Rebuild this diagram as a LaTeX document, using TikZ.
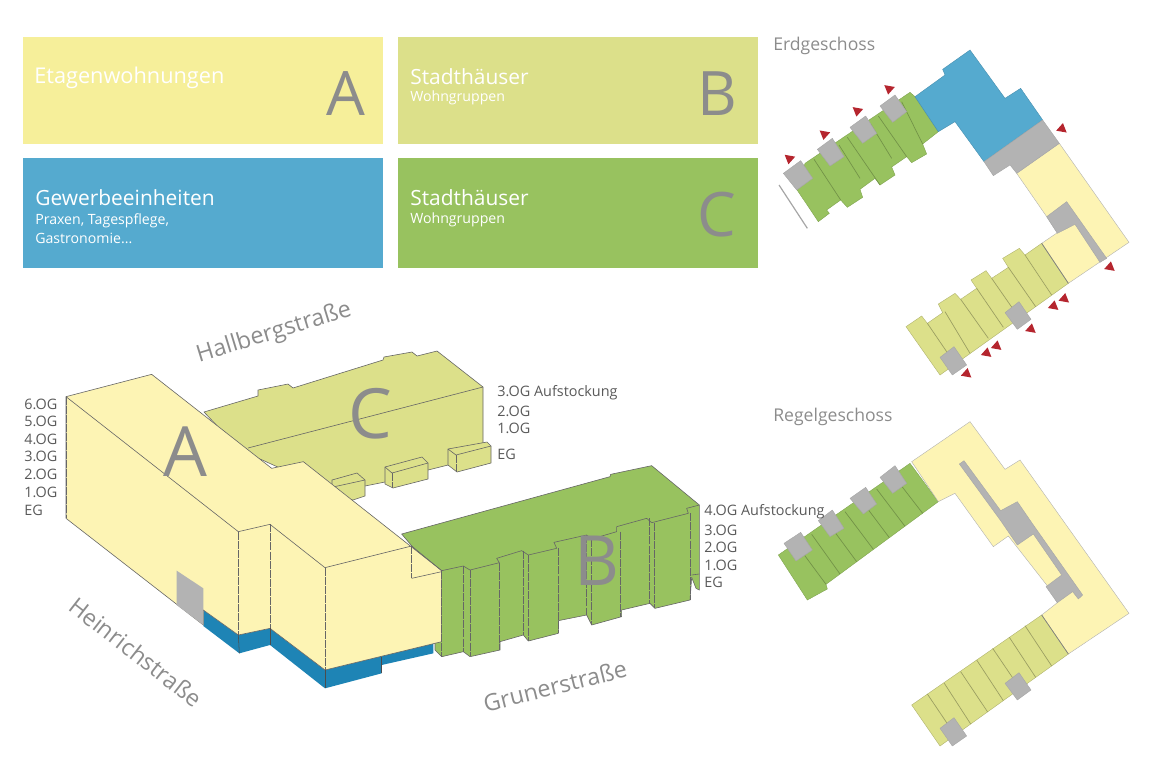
\documentclass[tikz,border=0pt]{standalone}
\usepackage{fontspec}
\setmainfont{Open Sans}
\definecolor{flatY}{HTML}{F6EF9A}
\definecolor{wallY}{HTML}{FDF4B4}
\definecolor{townLG}{HTML}{DCE08A}
\definecolor{townG}{HTML}{98C25F}
\definecolor{shopB}{HTML}{55AACF}
\definecolor{baseB}{HTML}{1E84B5}
\definecolor{coreGr}{HTML}{B3B3B3}
\definecolor{bigGr}{HTML}{8C8C8C}
\definecolor{tipR}{HTML}{B5252E}
\begin{document}
\begin{tikzpicture}[x=0.75pt,y=-0.75pt]
\useasboundingbox (0,0) rectangle (1155,764);
%%%%%%%%%%%%%%%%%%%%%%%%%%%%%%%%%%%%%%%%%%%%%%%%%%%%%%%%%%%%%%%%%%%%%%%%
%styles
\tikzstyle{legbox}=[minimum width=270pt,inner sep=0pt,anchor=north west]
\tikzstyle{legbig}=[font=\fontsize{15.7}{18}\selectfont,text=white,anchor=west,inner sep=0pt]
\tikzstyle{legsmall}=[font=\fontsize{10.6}{12}\selectfont,text=white,anchor=west,inner sep=0pt]
\tikzstyle{letter}=[font=\fontsize{46}{50}\selectfont,text=bigGr,inner sep=0pt]
\tikzstyle{bigletter}=[font=\fontsize{52}{56}\selectfont,text=bigGr,inner sep=0pt]
\tikzstyle{floor}=[font=\fontsize{10.8}{12}\selectfont,text=black!65,anchor=west,inner sep=0pt]
\tikzstyle{street}=[font=\fontsize{17.5}{20}\selectfont,text=black!45,inner sep=0pt]
\tikzstyle{plantitle}=[font=\fontsize{13.2}{15}\selectfont,text=black!45,anchor=west,inner sep=0pt]
\tikzstyle{core}=[fill=coreGr,draw=black!35,line width=0.3pt,line join=round]
\tikzstyle{rib}=[line width=0.5pt]
\tikzstyle{isoline}=[draw=black!60,line width=0.45pt,line join=round]
\tikzstyle{isodash}=[black!60,line width=0.45pt,dash pattern=on 6pt off 0.8pt]
\tikzstyle{tip}=[fill=tipR]

%legend
\node[legbox,fill=flatY,minimum height=80pt] (boxA) at (23,37) {};
\node[legbox,fill=townLG,minimum height=80pt] (boxB) at (398,37) {};
\node[legbox,fill=shopB,minimum height=82.5pt] (boxG) at (23,158) {};
\node[legbox,fill=townG,minimum height=82.5pt] (boxC) at (398,158) {};

\node[legbig,font=\fontsize{16.3}{18}\selectfont] (etage) at (34,77.5) {Etagenwohnungen};
\node[letter] (letA) at (346,94) {A};
\node[legbig] (stadt1) at (410,77) {Stadthäuser};
\node[legsmall] (wohn1) at (410,98) {Wohngruppen};
\node[letter] (letB) at (717,94) {B};
\node[legbig] (gewerbe) at (35,198) {Gewerbeeinheiten};
\node[legsmall] (praxen) at (35,220.5) {Praxen, Tagespflege,};
\node[legsmall] (gastro) at (35,238.5) {Gastronomie...};
\node[legbig] (stadt2) at (410,198) {Stadthäuser};
\node[legsmall] (wohn2) at (410,220) {Wohngruppen};
\node[letter] (letC) at (717,215) {C};

%%%%%%%%%%%%%%%%%%%%%%%%%%%%%%%%%%%%%%%%%%%%%%%%%%%%%%%%%%%%%%%%%%%%%%%%
%Erdgeschoss
\begin{scope}[shift={(770,30)},scale=1/3]
% wing C
\fill[townG,draw=townG!85!black,line width=0.3pt] (105,400) -- (420,187) -- (435,200) -- (505,305) -- (458,342) -- (470,372) -- (425,398) -- (410,380) -- (365,411) -- (375,435) -- (330,465) -- (315,445) -- (270,478) -- (278,502) -- (232,532) -- (212,510) -- (170,540) -- (178,550) -- (145,575) -- (80,478) -- cycle;
\foreach \xa/\ya/\xb/\yb in {132/388/212/510,207/345/270/445,232/322/330/465,302/282/365/385,325/258/410/380,395/215/458/342}
 \draw[rib,townG!75!black] (\xa,\ya) -- (\xb,\yb);
\fill[shopB,draw=shopB!85!black,line width=0.3pt] (435,200) -- (525,135) -- (518,118) -- (600,60) -- (705,205) -- (752,175) -- (818,270) -- (642,395) -- (555,275) -- (505,305) -- cycle;
% wing A
\fill[wallY,draw=black!30,line width=0.3pt] (740,430) -- (868,340) -- (1077,637) -- (895,760) -- (815,640) -- (862,608) -- (830,560) -- cycle;
\draw[core] (642,395) -- (818,270) -- (868,340) -- (740,430) -- (720,405) -- (670,437) -- cycle;
\draw[core] (830,560) -- (890,515) -- (1010,685) -- (990,697) -- (915,583) -- (862,610) -- cycle;
% wing B
\fill[townLG,draw=townLG!80!black,line width=0.3pt] (408,890) -- (455,858) -- (472,880) -- (518,848) -- (505,822) -- (555,790) -- (572,808) -- (620,775) -- (603,750) -- (648,722) -- (665,745) -- (715,712) -- (698,685) -- (748,655) -- (765,675) -- (815,640) -- (895,760) -- (510,1035) -- cycle;
\foreach \xa/\ya/\xb/\yb in {472/880/530/965,525/845/600/970,572/808/655/925,620/775/700/892,665/745/745/860,715/712/797/830,765/675/845/795}
 \draw[rib,townLG!70!black] (\xa,\ya) -- (\xb,\yb);
\draw[rib,black!50] (815,640) -- (895,760);
% stairs
\draw[core] (40,430) -- (92,392) -- (128,445) -- (80,480) -- cycle;
\draw[core] (142,358) -- (187,325) -- (222,380) -- (180,408) -- cycle;
\draw[core] (240,292) -- (287,258) -- (320,310) -- (278,340) -- cycle;
\draw[core] (330,228) -- (375,195) -- (410,245) -- (368,277) -- cycle;
\draw[core] (510,982) -- (552,950) -- (590,1005) -- (547,1035) -- cycle;
\draw[core] (705,848) -- (747,815) -- (783,868) -- (742,898) -- cycle;
\draw[black!35,line width=0.9pt] (27,465) -- (112,595);
% entrances
\foreach \xm/\ym in {58/387,163/314,262/244,357/178}
 \fill[tip,shift={(\xm,\ym)},rotate=-10] (0,16) -- (-16,-10) -- (16,-10) -- cycle;
\foreach \xm/\ym in {876/295,1020/710,883/805,851/827,783/896,680/947,650/968,590/1030}
 \fill[tip,shift={(\xm,\ym)},rotate=-10] (0,-16) -- (-16,10) -- (16,10) -- cycle;
\end{scope}

%%%%%%%%%%%%%%%%%%%%%%%%%%%%%%%%%%%%%%%%%%%%%%%%%%%%%%%%%%%%%%%%%%%%%%%%
%Regelgeschoss
\begin{scope}[shift={(770,400)},scale=1/3]
% wing C
\fill[townG,draw=townG!85!black,line width=0.3pt] (25,465) -- (420,190) -- (505,305) -- (168,553) -- (172,567) -- (112,600) -- cycle;
\foreach \xa/\ya/\xb/\yb in {83/438/168/553,125/403/210/522,175/370/260/485,225/335/310/448,273/300/358/413,320/267/405/379,373/230/458/340}
 \draw[rib,townG!75!black] (\xa,\ya) -- (\xb,\yb);
% wing A
\fill[wallY,draw=black!30,line width=0.3pt] (425,185) -- (600,65) -- (705,208) -- (750,180) -- (1077,640) -- (895,762) -- (815,645) -- (862,608) -- (830,555) -- (715,408) -- (670,440) -- (555,280) -- (505,305) -- cycle;
\draw[core] (568,192) -- (582,182) -- (692,332) -- (742,305) -- (788,372) -- (938,585) -- (925,597) -- (908,575) -- (862,608) -- (828,560) -- (875,525) -- (790,402) -- (742,435) -- (692,362) -- cycle;
% wing B
\fill[townLG,draw=townLG!80!black,line width=0.3pt] (425,915) -- (815,645) -- (895,762) -- (510,1038) -- cycle;
\foreach \xa/\ya/\xb/\yb in {472/882/555/1005,523/850/602/972,572/815/653/936,620/780/700/902,668/745/750/866,718/712/797/832,765/677/845/798}
 \draw[rib,townLG!70!black] (\xa,\ya) -- (\xb,\yb);
\draw[rib,black!50] (815,645) -- (895,762);
% stairs
\draw[core] (42,430) -- (92,397) -- (127,450) -- (78,483) -- cycle;
\draw[core] (145,362) -- (187,330) -- (222,385) -- (180,410) -- cycle;
\draw[core] (240,295) -- (287,262) -- (320,312) -- (280,342) -- cycle;
\draw[core] (330,232) -- (375,197) -- (410,250) -- (368,280) -- cycle;
\draw[core] (510,985) -- (552,953) -- (590,1008) -- (547,1038) -- cycle;
\draw[core] (705,850) -- (747,818) -- (783,870) -- (742,900) -- cycle;
\end{scope}

%%%%%%%%%%%%%%%%%%%%%%%%%%%%%%%%%%%%%%%%%%%%%%%%%%%%%%%%%%%%%%%%%%%%%%%%
%building C (behind)
\filldraw[isoline,fill=townLG] (204,412) -- (258,396) -- (258,390) -- (288,384) -- (293,388) -- (383,360) -- (384,357) -- (412,352) -- (417,356) -- (437,351) -- (483,387) -- (483,445) -- (448,465) -- (428,470) -- (385,482) -- (365,486) -- (340,495) -- (240,450) -- cycle;
\draw[isoline] (248,448) -- (483,387);
%bumps
\filldraw[isoline,fill=townLG] (332,480) -- (357,473) -- (365,480) -- (365,496) -- (353,500) -- (332,495) -- cycle;
\draw[isoline] (333,487) -- (365,480);
\filldraw[isoline,fill=townLG] (385,467) -- (422,457) -- (428,463) -- (428,479) -- (393,488) -- (385,484) -- cycle;
\draw[isoline] (385,467) -- (392,473) -- (428,463);
\draw[isodash] (392,473) -- (392,488);
\filldraw[isoline,fill=townLG] (448,449) -- (487,442) -- (491,446) -- (491,463) -- (457,472) -- (448,465) -- cycle;
\draw[isoline] (448,449) -- (456,455) -- (491,446);
\draw[isodash] (456,455) -- (456,472);

%%%%%%%%%%%%%%%%%%%%%%%%%%%%%%%%%%%%%%%%%%%%%%%%%%%%%%%%%%%%%%%%%%%%%%%%
%building B
\begin{scope}[shift={(390,340)},scale=1/3]
\filldraw[isoline,fill=townG] (35,582) -- (660,410) -- (662,403) -- (785,377) -- (928,495) -- (928,750) -- (918,745) -- (905,712) -- (900,780) -- (795,805) -- (780,790) -- (695,810) -- (695,830) -- (605,855) -- (590,825) -- (505,842) -- (505,880) -- (415,903) -- (400,885) -- (330,905) -- (330,930) -- (240,950) -- (220,935) -- (155,950) -- (135,930) -- (135,700) -- cycle;
\draw[isoline] (155,692) -- (220,678) -- (240,690) -- (328,668) -- (320,655) -- (395,632) -- (415,645) -- (500,625) -- (492,607) -- (590,585) -- (605,597) -- (680,575) -- (680,560) -- (770,535) -- (785,548) -- (895,520) -- (890,505) -- (928,495);
\foreach \xd/\ya/\yb in {220/678/935,240/690/948,328/668/930,400/632/885,415/645/903,505/625/880,590/585/825,605/597/855,690/575/830,778/535/790,793/548/805,900/520/780}
 \draw[isodash] (\xd,\ya) -- (\xd,\yb);
\draw[isoline] (905,705) -- (928,702);
\end{scope}

%%%%%%%%%%%%%%%%%%%%%%%%%%%%%%%%%%%%%%%%%%%%%%%%%%%%%%%%%%%%%%%%%%%%%%%%
%building A
\begin{scope}[shift={(10,340)},scale=1/3]
\fill[baseB] (580,810) -- (685,885) -- (780,865) -- (945,990) -- (1270,910) -- (1270,940) -- (1115,975) -- (1115,1000) -- (945,1045) -- (780,915) -- (688,940) -- (580,858) -- cycle;
\filldraw[isoline,fill=wallY] (168,170) -- (425,103) -- (785,385) -- (880,365) -- (1295,692) -- (1295,905) -- (945,990) -- (780,865) -- (685,885) -- (580,810) -- (580,855) -- (168,535) -- cycle;
\fill[coreGr] (500,692) -- (580,745) -- (580,855) -- (500,795) -- cycle;
\draw[isoline] (168,170) -- (685,575) -- (780,553) -- (945,683) -- (1205,618);
\draw[isoline] (1205,618) -- (1295,692);
\draw[isoline] (1205,715) -- (1295,695);
\draw[isodash] (168,170) -- (168,535);
\draw[isodash] (685,575) -- (685,885);
\draw[isodash] (780,553) -- (780,865);
\draw[isodash] (945,683) -- (945,990);
\draw[isodash] (1205,618) -- (1205,715);
\draw[isodash] (1295,692) -- (1295,950);
\draw[black!70,line width=0.4pt] (685,885) -- (688,940);
\draw[black!70,line width=0.4pt] (780,865) -- (780,915);
\draw[black!70,line width=0.4pt] (945,990) -- (945,1045);
\draw[black!70,line width=0.4pt] (1115,950) -- (1115,1000);
\end{scope}

%letters on the buildings
\node[bigletter] (isoA) at (185,452) {A};
\node[bigletter] (isoC) at (370,414) {C};
\node[bigletter] (isoB) at (597,561) {B};

%streets
\node[street,rotate=17] (hallberg) at (274,333) {Hallbergstraße};
\node[street,rotate=-38] (heinrich) at (136,652) {Heinrichstraße};
\node[street,rotate=14] (gruner) at (555,686) {Grunerstraße};

%floors A
\node[floor] (a6) at (24,404) {6.OG};
\node[floor] (a5) at (24,421) {5.OG};
\node[floor] (a4) at (24,439) {4.OG};
\node[floor] (a3) at (24,456) {3.OG};
\node[floor] (a2) at (24,474) {2.OG};
\node[floor] (a1) at (24,492) {1.OG};
\node[floor] (a0) at (24,510) {EG};
%floors C
\node[floor] (c3) at (497,393) {3.OG Aufstockung};
\node[floor] (c2) at (497,411) {2.OG};
\node[floor] (c1) at (497,428) {1.OG};
\node[floor] (c0) at (497,454) {EG};
%floors B
\node[floor] (b4) at (704,512) {4.OG Aufstockung};
\node[floor] (b3) at (704,530) {3.OG};
\node[floor] (b2) at (704,547) {2.OG};
\node[floor] (b1) at (704,565) {1.OG};
\node[floor] (b0) at (704,582) {EG};

\node[plantitle] (erd) at (773,46) {Erdgeschoss};
\node[plantitle] (regel) at (773,417) {Regelgeschoss};
\end{tikzpicture}
\end{document}
